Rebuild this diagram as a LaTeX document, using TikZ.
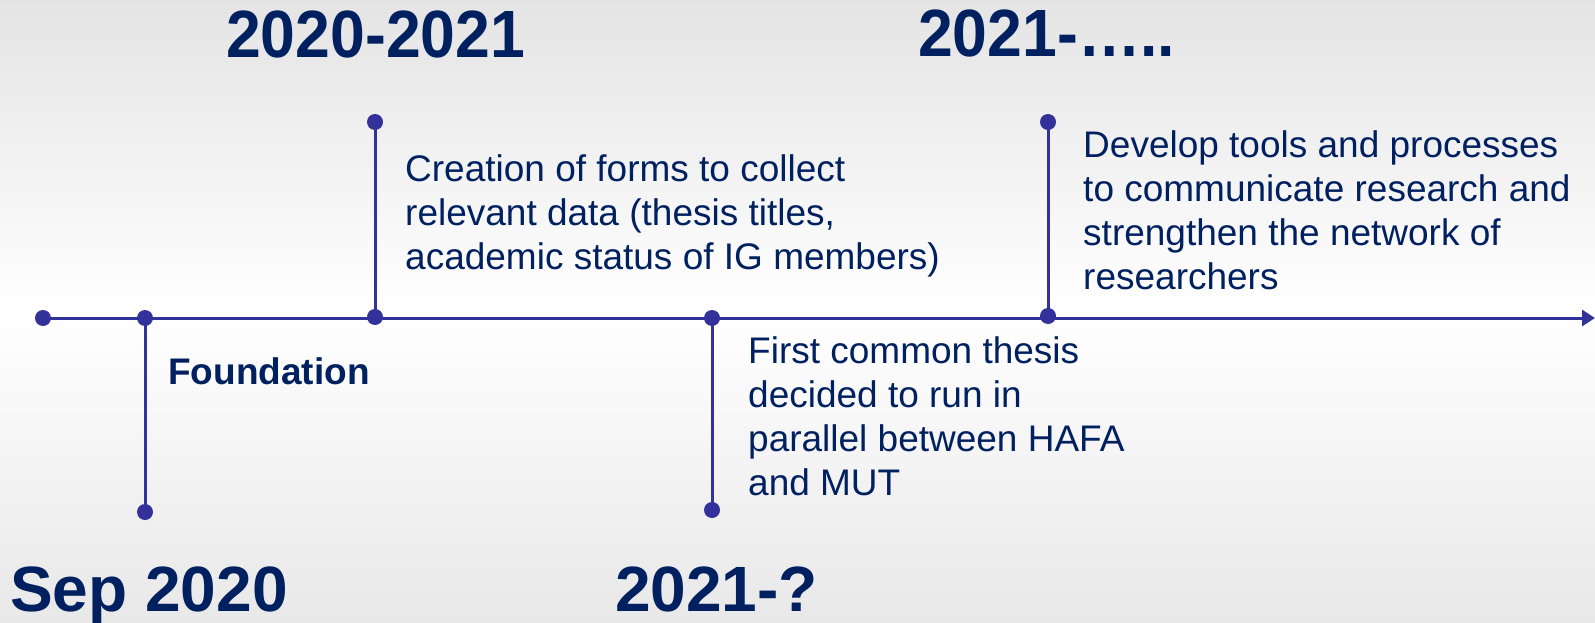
\documentclass[tikz,border=0pt]{standalone}
\usepackage{fontspec}
\setmainfont{Liberation Sans}
\usetikzlibrary{arrows.meta}
\definecolor{navy}{HTML}{002060}
\definecolor{linec}{HTML}{32329A}
\definecolor{bgtop}{HTML}{E4E4E4}
\definecolor{bgbot}{HTML}{E8E8E8}
\begin{document}
\begin{tikzpicture}[x=1pt,y=-1pt,
  dot/.style={circle,fill=linec,inner sep=0pt,minimum size=16pt},
  conn/.style={draw=linec,line width=3pt},
  body/.style={anchor=north west,inner sep=0pt,text=navy,align=left,font=\fontsize{37}{44}\selectfont},
  toptitle/.style={anchor=base west,inner sep=0pt,text=navy,font=\fontsize{62.5}{70}\selectfont\bfseries},
  bottitle/.style={anchor=base west,inner sep=0pt,text=navy,font=\fontsize{64}{70}\selectfont\bfseries},
]
\shade[top color=bgtop,bottom color=bgbot,middle color=white] (0,0) rectangle (1595,623);
\useasboundingbox (0,0) rectangle (1595,623);

% positions
\coordinate (p0) at (43,318);
\coordinate (p1) at (145,318);
\coordinate (p2) at (375,317);
\coordinate (p3) at (712,318);
\coordinate (p4) at (1048,316);
\coordinate (b1) at (145,512);
\coordinate (t2) at (375,122);
\coordinate (b3) at (712,510);
\coordinate (t4) at (1048,122);
\coordinate (pend) at (1595,318);

% connectors
\draw[conn,-{Triangle[length=13pt,width=16pt]}] (p0) -- (pend);
\draw[conn] (p1) -- (b1);
\draw[conn] (p2) -- (t2);
\draw[conn] (p3) -- (b3);
\draw[conn] (p4) -- (t4);

% dots
\foreach \c in {p0,p1,p2,p3,p4,b1,t2,b3,t4}
  \node[dot] (d-\c) at (\c) {};

% titles
\node[toptitle] (ttl1) at (226,58) {\scalebox{1}[1.07]{2020-2021}};
\node[toptitle] (ttl2) at (918,57) {\scalebox{1}[1.07]{2021-…..}};
\node[bottitle] (ttl3) at (10,611) {Sep 2020};
\node[bottitle] (ttl4) at (615,611) {2021-?};

% texts
\node[anchor=base west,inner sep=0pt,text=navy,font=\fontsize{37}{44}\selectfont\bfseries] (found) at (168,384) {Foundation};
\node[body] (txt2) at (405,154) {Creation of forms to collect\\relevant data (thesis titles,\\academic status of IG members)};
\node[body] (txt3) at (748,336) {First common thesis\\decided to run in\\parallel between HAFA\\and MUT};
\node[body] (txt4) at (1083,130) {Develop tools and processes\\to communicate research and\\strengthen the network of\\researchers};
\end{tikzpicture}
\end{document}
